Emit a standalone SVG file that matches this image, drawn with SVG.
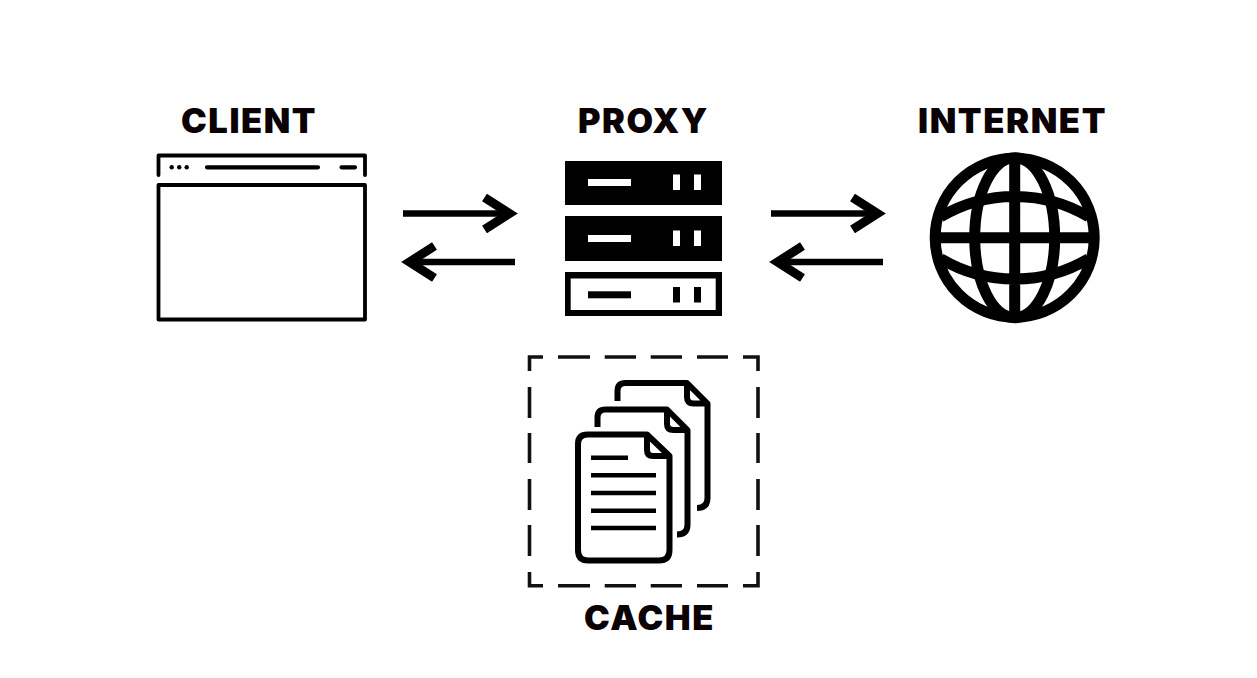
<svg xmlns="http://www.w3.org/2000/svg" width="1257" height="678" viewBox="0 0 1257 678">
<style>
.label{font-family:Inter,"Liberation Sans",sans-serif;font-weight:900;font-size:33.500px;letter-spacing:1.500px;fill:#0a0204}
.line{fill:none;stroke:#000;stroke-linecap:round;stroke-linejoin:round}
.win{stroke-width:3.800}
.doc{stroke-width:6;stroke-linecap:butt}
.txt{stroke-width:4.500;stroke-linecap:butt}
.dash{fill:none;stroke:#111;stroke-width:3.600}
.arrow{fill:none;stroke:#000;stroke-width:6.500}
.head{fill:none;stroke:#000;stroke-width:9;stroke-miterlimit:4}
.globe{fill:none;stroke:#000;stroke-width:11}
</style>
<rect width="1257" height="678" fill="#fff"/>
<g id="client">
<text class="label" x="181" y="133" textLength="136" lengthAdjust="spacingAndGlyphs">CLIENT</text>
<path class="line win" d="M158.500 175V155.500H365V175"/>
<rect class="line win" x="158.500" y="185" width="206.500" height="134.500"/>
<circle cx="171.700" cy="167.300" r="2.200"/><circle cx="179.200" cy="167.300" r="2.200"/><circle cx="186.700" cy="167.300" r="2.200"/>
<path class="line" stroke-width="4.200" d="M207 167.300H318M341.500 167.300H355"/>
</g>
<g id="proxy">
<text class="label" x="578" y="133" textLength="131" lengthAdjust="spacingAndGlyphs">PROXY</text>
<rect x="565" y="161" width="157" height="44"/>
<rect x="588" y="179" width="43" height="7" fill="#fff"/><rect x="673" y="174.500" width="7" height="15.500" fill="#fff"/><rect x="694" y="174.500" width="7" height="15.500" fill="#fff"/>
<rect x="565" y="216" width="157" height="45"/>
<rect x="588" y="235" width="43" height="7" fill="#fff"/><rect x="673" y="230.500" width="7" height="15.500" fill="#fff"/><rect x="694" y="230.500" width="7" height="15.500" fill="#fff"/>
<rect x="565" y="272" width="157" height="44"/>
<rect x="570.700" y="278.500" width="145" height="31.500" fill="#fff"/>
<rect x="588" y="291.300" width="43" height="7"/><rect x="673" y="287" width="7" height="15.500"/><rect x="694" y="287" width="7" height="15.500"/>
</g>
<g id="internet">
<text class="label" x="918" y="132.500" textLength="189" lengthAdjust="spacingAndGlyphs">INTERNET</text>
<g transform="translate(1014.700 237.700)">
<circle class="globe" r="79.500"/>
<ellipse class="globe" rx="40" ry="80"/>
<path class="globe" d="M0-80V80M-80 0H80M-74-21A145 145 0 0 1 74-21M-74 21A145 145 0 0 0 74 21"/>
</g>
</g>
<g id="cache">
<text class="label" x="584" y="630" textLength="131" lengthAdjust="spacingAndGlyphs">CACHE</text>
<path class="dash" d="M543 357H529.500V371M558 357H590M604.700 357H636M650.700 357H682M697 357H728M743 357H758V371M529.500 387V418M529.500 433V463M529.500 479V510M529.500 525V556M529.500 572V585.700H543M758 387V418M758 433V463M758 479V510M758 525V556M758 572V585.700H743M558 585.700H590M604.700 585.700H636M650.700 585.700H682M697 585.700H728"/>
<path class="line doc" d="M617.500 401V391Q617.500 383 625.500 383H687L707.500 403.500V498Q707.500 508 697 508M687 383V397Q687 403.500 693.500 403.500H707.500"/>
<path class="line doc" d="M597.500 427V417.500Q597.500 409.500 605.500 409.500H667L687.500 430V524.500Q687.500 534.500 677 534.500M667 409.500V424Q667 430 673.500 430H687.500"/>
<path class="line doc" d="M587.500 434.500H647L669.500 456V550Q669.500 560.500 659 560.500H588Q578 560.500 578 550V444Q578 434.500 587.500 434.500ZM647 434.500V450Q647 456 653 456H669.500"/>
<path class="line txt" d="M591 457.700H628M591 475.300H656M591 493H656M591 510.700H656M591 528H656"/>
</g>
<g id="connectors">
<path class="arrow" d="M403 213.500H509"/><path class="head" d="M484.500 197.500L509.500 213.500L484.500 229.500"/>
<path class="arrow" d="M515 262H410"/><path class="head" d="M434.500 246L409.500 262L434.500 278"/>
<path class="arrow" d="M771 213.500H877"/><path class="head" d="M852.500 197.500L877.500 213.500L852.500 229.500"/>
<path class="arrow" d="M883 262H778"/><path class="head" d="M802.500 246L777.500 262L802.500 278"/>
</g>
</svg>
